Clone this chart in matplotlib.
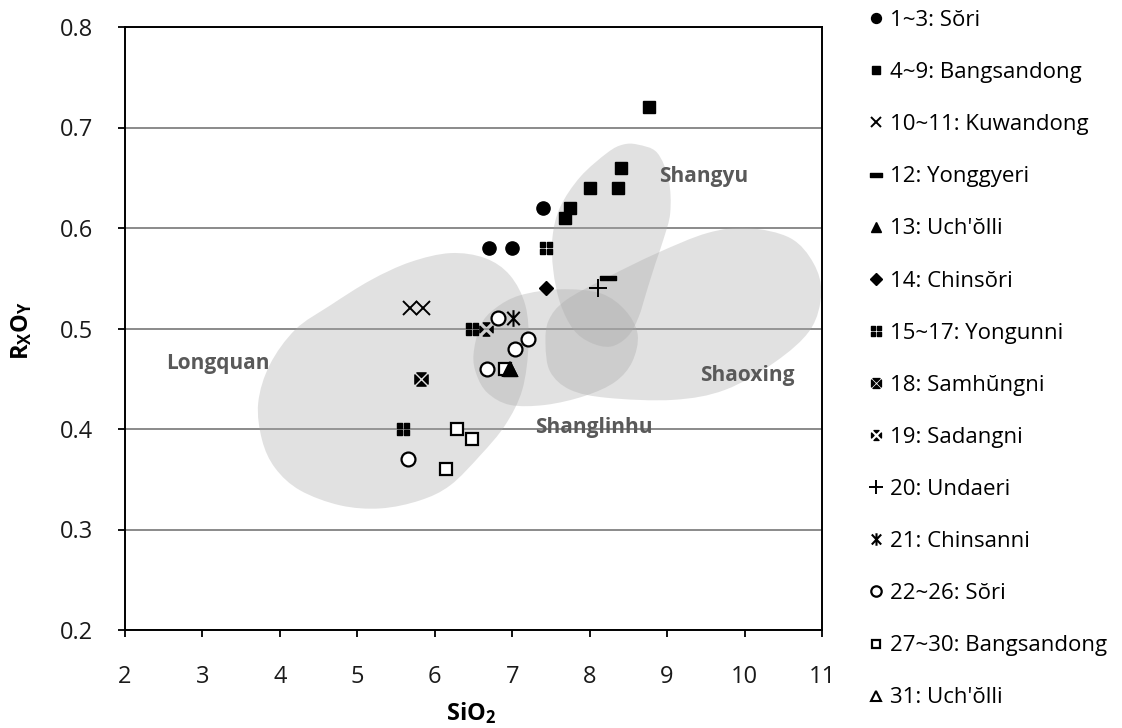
import numpy as np
import matplotlib
matplotlib.use("Agg")
import matplotlib.pyplot as plt
from matplotlib.path import Path
from matplotlib.patches import PathPatch

plt.rcParams['font.family'] = ['Open Sans', 'DejaVu Sans']
plt.rcParams['mathtext.fontset'] = 'custom'
plt.rcParams['mathtext.rm'] = 'Open Sans'
plt.rcParams['mathtext.bf'] = 'Open Sans:bold'

# sample groups: SiO2 (x) and RxOy (y)
sori_x = [6.70, 7.00, 7.40]
sori_y = [0.58, 0.58, 0.62]
bangsan_x = [8.76, 8.41, 8.37, 8.00, 7.74, 7.68]
bangsan_y = [0.72, 0.66, 0.64, 0.64, 0.62, 0.61]
kuwan_x = [5.68, 5.85]
kuwan_y = [0.52, 0.52]
yonggye_x = [8.24]
yonggye_y = [0.55]
uch_x = [6.97]
uch_y = [0.46]
chinsori_x = [7.43]
chinsori_y = [0.54]
yongun_x = [7.44, 6.48, 5.59]
yongun_y = [0.58, 0.50, 0.40]
samhung_x = [5.82]
samhung_y = [0.45]
sadang_x = [6.66]
sadang_y = [0.50]
undae_x = [8.11]
undae_y = [0.54]
chinsan_x = [7.01]
chinsan_y = [0.51]
sori2_x = [6.81, 7.03, 7.21, 6.68, 5.66]
sori2_y = [0.51, 0.48, 0.49, 0.46, 0.37]
bangsan2_x = [6.29, 6.48, 6.15, 6.91]
bangsan2_y = [0.40, 0.39, 0.36, 0.46]
uch2_x = [6.97]
uch2_y = [0.46]

labels = ["1~3: Sŏri", "4~9: Bangsandong", "10~11: Kuwandong", "12: Yonggyeri",
          "13: Uch'ŏlli", "14: Chinsŏri", "15~17: Yongunni", "18: Samhŭngni",
          "19: Sadangni", "20: Undaeri", "21: Chinsanni", "22~26: Sŏri",
          "27~30: Bangsandong", "31: Uch'ŏlli"]

# kiln field outlines (SiO2, RxOy)
longquan_x = [3.72, 3.77, 3.94, 4.26, 4.78, 5.30, 5.81, 6.20, 6.59, 6.91, 7.13,
              7.21, 7.17, 6.97, 6.65, 6.20, 5.68, 5.17, 4.65, 4.20, 3.87]
longquan_y = [0.426, 0.389, 0.361, 0.339, 0.324, 0.321, 0.329, 0.344, 0.374, 0.404, 0.439,
              0.484, 0.523, 0.553, 0.570, 0.575, 0.566, 0.548, 0.523, 0.499, 0.464]
shanglin_x = [6.50, 6.59, 6.78, 7.10, 7.62, 8.14, 8.46, 8.62, 8.55, 8.33, 7.94,
              7.43, 6.97, 6.68, 6.54]
shanglin_y = [0.474, 0.503, 0.520, 0.533, 0.539, 0.535, 0.518, 0.494, 0.467, 0.447, 0.433,
              0.424, 0.424, 0.436, 0.454]
shangyu_x = [8.62, 8.87, 9.02, 9.04, 8.95, 8.85, 8.74, 8.63, 8.49, 8.27, 8.01,
             7.79, 7.62, 7.53, 7.52, 7.62, 7.88, 8.23, 8.43]
shangyu_y = [0.683, 0.675, 0.648, 0.615, 0.588, 0.565, 0.538, 0.511, 0.492, 0.482, 0.486,
             0.499, 0.525, 0.558, 0.591, 0.621, 0.651, 0.675, 0.683]
shaoxing_x = [7.43, 7.47, 7.69, 8.23, 8.87, 9.52, 10.04, 10.59, 10.89, 10.99, 10.85,
              10.40, 9.75, 9.08, 8.23, 7.75, 7.49]
shaoxing_y = [0.484, 0.508, 0.528, 0.551, 0.575, 0.595, 0.600, 0.590, 0.565, 0.535, 0.499,
              0.467, 0.439, 0.429, 0.431, 0.439, 0.457]


def blob_path(xs, ys):
    """Closed Catmull-Rom curve through the outline points, as cubic Beziers."""
    pts = np.column_stack([xs, ys])
    n = len(pts)
    verts = [pts[0]]
    codes = [Path.MOVETO]
    for i in range(n):
        p0, p1, p2, p3 = pts[i - 1], pts[i], pts[(i + 1) % n], pts[(i + 2) % n]
        verts += [p1 + (p2 - p0) / 6, p2 - (p3 - p1) / 6, p2]
        codes += [Path.CURVE4] * 3
    verts.append(pts[0])
    codes.append(Path.CLOSEPOLY)
    return Path(verts, codes)


def squares_marker():
    v, c = [], []
    for x0, y0 in [(-1, -1), (0.15, -1), (-1, 0.15), (0.15, 0.15)]:
        v += [(x0, y0), (x0 + 0.85, y0), (x0 + 0.85, y0 + 0.85), (x0, y0 + 0.85), (x0, y0)]
        c += [Path.MOVETO, Path.LINETO, Path.LINETO, Path.LINETO, Path.CLOSEPOLY]
    return Path(v, c)


def crossed_marker(g):
    tris = [[(-1 + g, 1), (1 - g, 1), (0, g)],
            [(-1 + g, -1), (1 - g, -1), (0, -g)],
            [(-1, -1 + g), (-1, 1 - g), (-g, 0)],
            [(1, -1 + g), (1, 1 - g), (g, 0)]]
    v, c = [], []
    for t in tris:
        v += t + [t[0]]
        c += [Path.MOVETO, Path.LINETO, Path.LINETO, Path.CLOSEPOLY]
    return Path(v, c)


dash = Path([(-1, -0.32), (1, -0.32), (1, 0.32), (-1, 0.32), (-1, -0.32)],
            [Path.MOVETO, Path.LINETO, Path.LINETO, Path.LINETO, Path.CLOSEPOLY])

# vertical bar crossed by an x
zhe = Path([(0, -1), (0, 1), (-0.75, -0.8), (0.75, 0.8), (-0.75, 0.8), (0.75, -0.8)],
           [Path.MOVETO, Path.LINETO] * 3)

fig = plt.figure(figsize=(11.22, 7.28), dpi=100)
ax = fig.add_axes([125 / 1122, 98 / 728, 697 / 1122, 603 / 728])

for bx, by in [(longquan_x, longquan_y), (shanglin_x, shanglin_y),
               (shangyu_x, shangyu_y), (shaoxing_x, shaoxing_y)]:
    ax.add_patch(PathPatch(blob_path(bx, by), facecolor='#a8a8a8', edgecolor='none',
                           alpha=0.34, zorder=1))

for txt, tx, ty in [("Longquan", 3.20, 0.465), ("Shangyu", 9.47, 0.651),
                    ("Shaoxing", 10.04, 0.453), ("Shanglinhu", 8.05, 0.401)]:
    ax.text(tx, ty, txt, ha='center', va='center', fontsize=15,
            fontweight='bold', color='#595959', zorder=2)

k = dict(linestyle='none', color='black', zorder=3)
handles = [
    ax.plot(sori_x, sori_y, marker='o', markersize=9.5, **k)[0],
    ax.plot(bangsan_x, bangsan_y, marker='s', markersize=8.5, **k)[0],
    ax.plot(kuwan_x, kuwan_y, marker='x', markersize=9.5, markeredgewidth=1.4, **k)[0],
    ax.plot(yonggye_x, yonggye_y, marker=dash, markersize=11, **k)[0],
    None,
    ax.plot(chinsori_x, chinsori_y, marker='D', markersize=7.5, **k)[0],
    ax.plot(yongun_x, yongun_y, marker=squares_marker(), markersize=9, **k)[0],
    ax.plot(samhung_x, samhung_y, marker=crossed_marker(0.3), markersize=9.5, **k)[0],
    ax.plot(sadang_x, sadang_y, marker=crossed_marker(0.5), markersize=9.5, **k)[0],
    ax.plot(undae_x, undae_y, marker='+', markersize=13, markeredgewidth=1.4, **k)[0],
    ax.plot(chinsan_x, chinsan_y, marker=zhe, markersize=12, markeredgewidth=1.5,
            markerfacecolor='none', **k)[0],
    ax.plot(sori2_x, sori2_y, marker='o', markersize=10, markerfacecolor='white',
            markeredgewidth=1.6, **k)[0],
    ax.plot(bangsan2_x, bangsan2_y, marker='s', markersize=8.5, markerfacecolor='white',
            markeredgewidth=1.6, **k)[0],
    ax.plot(uch2_x, uch2_y, marker='^', markersize=10, markerfacecolor='white',
            markeredgewidth=1.5, **k)[0],
]
# filled triangle sits on top of the open square and open triangle
handles[4] = ax.plot(uch_x, uch_y, marker='^', markersize=10, **dict(k, zorder=4))[0]

ax.set_xlim(2, 11)
ax.set_ylim(0.2, 0.8)
ax.set_xticks(range(2, 12))
ax.set_yticks(np.arange(0.2, 0.81, 0.1))
ax.set_yticklabels([f"{v:.1f}" for v in np.arange(0.2, 0.81, 0.1)])
ax.yaxis.grid(True, color='#8a8a8a', linewidth=1.4)
ax.set_axisbelow(True)
ax.tick_params(direction='out', length=5, width=1.3, labelsize=17,
               labelcolor='#1a1a1a')
ax.tick_params(axis='x', pad=20)
ax.tick_params(axis='y', pad=18)
for s in ax.spines.values():
    s.set_linewidth(1.4)
    s.set_color('black')

ax.set_xlabel(r'$\mathbf{SiO_2}$', fontsize=17)
ax.set_ylabel(r'$\mathbf{R_XO_Y}$', fontsize=17)
ax.xaxis.set_label_coords(0.496, -0.138)
ax.xaxis.label.set_va('center')
ax.yaxis.set_label_coords(-0.148, 0.497)
ax.yaxis.label.set_va('center')

fig.legend(handles, labels, loc='upper left', bbox_to_anchor=(869 / 1122, 1 - 10 / 728),
           frameon=False, fontsize=16, labelspacing=1.40, handlelength=0.6,
           handletextpad=0.35, markerscale=0.75, borderaxespad=0, borderpad=0)

fig.savefig("out.png", dpi=100)
